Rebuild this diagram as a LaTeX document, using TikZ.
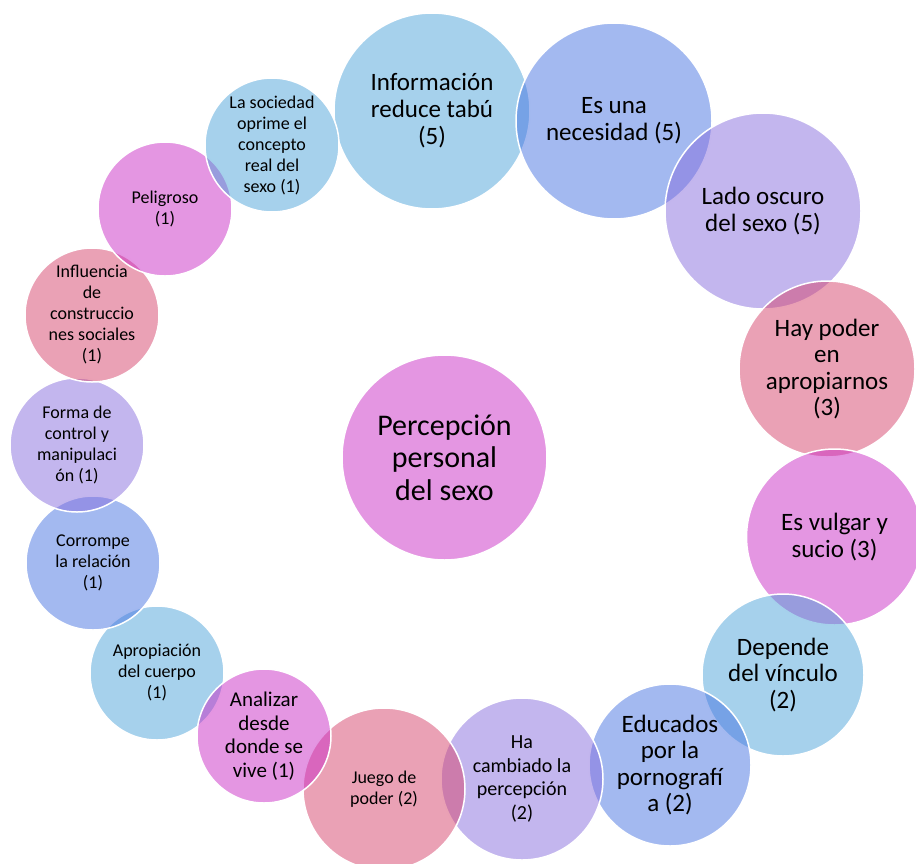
\documentclass[tikz,border=0pt]{standalone}
\usepackage{fontspec}
\setmainfont{Carlito}
% bubble colours (drawn at half opacity)
\definecolor{cblue}{HTML}{4DA3D9}
\definecolor{cperi}{HTML}{4773E1}
\definecolor{clav}{HTML}{876DDD}
\definecolor{cpink}{HTML}{D5436B}
\definecolor{cmag}{HTML}{C92DC5}
\begin{document}
\begin{tikzpicture}[x=1pt,y=-1pt,
  bubble/.style={circle, draw=white, line width=1.5pt, fill opacity=0.5,
    text opacity=1, inner sep=0pt, align=center, text=black},
  big/.style={bubble, minimum size=196pt, font=\fontsize{25}{27}\selectfont},
  mid/.style={bubble, minimum size=176pt, font=\fontsize{25}{26.5}\selectfont},
  medium/.style={bubble, minimum size=162pt, font=\fontsize{25}{26.5}\selectfont},
  small/.style={bubble, minimum size=134pt, font=\fontsize{18}{21}\selectfont}]
\useasboundingbox (0,0) rectangle (916,863);
\clip (0,0) rectangle (916,863);

% central topic
\node[bubble, fill=cmag, minimum size=205pt, font=\fontsize{30}{32.5}\selectfont]
  (centre) at (444.5,457.5) {Percepción\\personal\\del sexo};

% ring of bubbles
\node[big, fill=cblue] (info) at (432,111) {Información\\reduce tabú\\(5)};
\node[big, fill=cperi] (necesidad) at (614,121) {Es una\\necesidad (5)};
\node[big, fill=clav] (oscuro) at (763,211) {Lado oscuro\\del sexo (5)};
\node[mid, fill=cpink] (poder) at (827,369) {Hay poder\\en\\apropiarnos\\(3)};
\node[mid, fill=cmag] (vulgar) at (834.5,537) {Es vulgar y\\sucio (3)};
\node[medium, fill=cblue] (vinculo) at (783,675) {Depende\\del vínculo\\(2)};
\node[medium, fill=cperi] (porno) at (670,765) {Educados\\por la\\pornografí\\a (2)};
\node[medium, fill=clav, font=\fontsize{20}{23.5}\selectfont] (cambiado) at (522,779)
  {Ha\\cambiado la\\percepción\\(2)};
\node[medium, fill=cpink, font=\fontsize{18}{21}\selectfont] (juego) at (384,789)
  {Juego de\\poder (2)};
\node[small, fill=cblue] (cuerpo) at (157,673) {Apropiación\\del cuerpo\\(1)};
\node[small, fill=cmag, font=\fontsize{21}{23.5}\selectfont] (analizar) at (264,736)
  {Analizar\\desde\\donde se\\vive (1)};
\node[small, fill=cperi] (corrompe) at (93,563) {Corrompe\\la relación\\(1)};
\node[small, fill=clav] (control) at (77,445) {Forma de\\control y\\manipulaci\\ón (1)};
\node[small, fill=cpink] (influencia) at (92,315)
  {Influencia\\de\\construccio\\nes sociales\\(1)};
\node[small, fill=cmag] (peligroso) at (165,209) {Peligroso\\(1)};
\node[small, fill=cblue] (oprime) at (272,145)
  {La sociedad\\oprime el\\concepto\\real del\\sexo (1)};
\end{tikzpicture}
\end{document}
